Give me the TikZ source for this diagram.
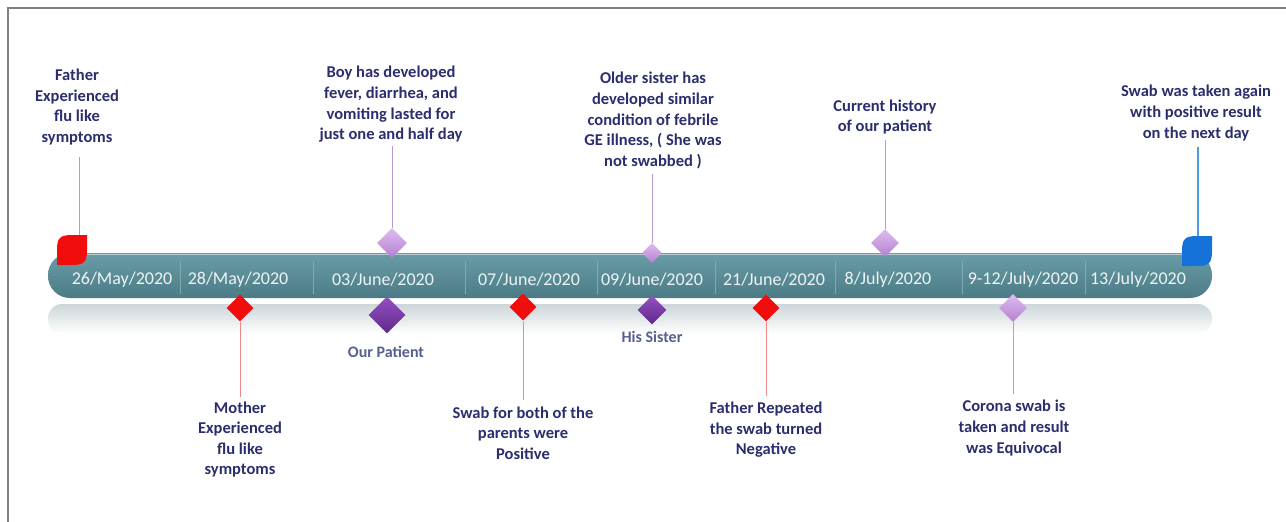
\documentclass[tikz,border=0pt]{standalone}
\usepackage{fontspec}
\setmainfont{Carlito}
\usetikzlibrary{shapes.geometric}
\definecolor{navy}{HTML}{2B2E6E}
\definecolor{tagcol}{HTML}{55608F}
\definecolor{barA}{HTML}{6A9DA7}
\definecolor{barB}{HTML}{4B7B86}
\definecolor{sepcol}{HTML}{7FAAB3}
\definecolor{datecol}{HTML}{EEF4F5}
\definecolor{reflA}{HTML}{CDD6D9}
\definecolor{framecol}{HTML}{808080}
\definecolor{redm}{HTML}{F20D0D}
\definecolor{redln}{HTML}{F08A8A}
\definecolor{lpurA}{HTML}{DDBDEE}
\definecolor{lpurB}{HTML}{B57FD2}
\definecolor{lpurln}{HTML}{B99AD2}
\definecolor{dpurA}{HTML}{9550C0}
\definecolor{dpurB}{HTML}{5E2A8C}
\definecolor{bluem}{HTML}{1472D8}
\definecolor{blueln}{HTML}{4D9BE2}
\newcommand\leafshape[3]{%
  \fill[#3] ({#1+15},{#2-15}) -- ({#1+15},{#2}) .. controls ({#1+15},{#2+12}) and ({#1+12},{#2+15}) .. ({#1},{#2+15}) -- ({#1-15},{#2+15}) -- ({#1-15},{#2}) .. controls ({#1-15},{#2-12}) and ({#1-12},{#2-15}) .. ({#1},{#2-15}) -- cycle;}
\begin{document}
\begin{tikzpicture}[x=1pt,y=-1pt,
  lab/.style={font=\bfseries\fontsize{16.5}{20.6}\selectfont,text=navy,align=center,inner sep=0pt},
  datelab/.style={font=\fontsize{18}{20}\selectfont,text=datecol,inner sep=0pt},
  tag/.style={font=\bfseries\fontsize{16}{19}\selectfont,text=tagcol,inner sep=0pt},
  dia/.style={diamond,inner sep=0pt,minimum width=#1,minimum height=#1},
  reddia/.style={dia=27,fill=redm},
  lpdia/.style={dia=#1,top color=lpurA,bottom color=lpurB},
  dpdia/.style={dia=#1,top color=dpurA,bottom color=dpurB},
  redline/.style={redln,line width=1pt},
  lpline/.style={lpurln,line width=1pt},
  blueline/.style={blueln,line width=1.3pt}
]
\useasboundingbox (0,0) rectangle (1286,522);
\fill[white] (0,0) rectangle (1286,522);
\draw[framecol,line width=1.5pt] (8,522) -- (8,8) -- (1286,8);

% reflection and bar
\shade[top color=reflA,bottom color=white,rounded corners=14] (48,304) rectangle (1212,334);
\shade[top color=barA,bottom color=barB,rounded corners=22] (48,253) rectangle (1212,298);
\draw[white!50!barA,line width=0.8pt] (66,254) -- (1194,254);
\foreach \sx in {180,313,465,597,715,835,962,1085}
  \draw[sepcol,line width=0.6pt] (\sx,261) -- (\sx,294);

% dates
\node[datelab] (dt1) at (122,280) {26/May/2020};
\node[datelab] (dt2) at (238,280) {28/May/2020};
\node[datelab] (dt3) at (383,280) {03/June/2020};
\node[datelab] (dt4) at (529,280) {07/June/2020};
\node[datelab] (dt5) at (652,280) {09/June/2020};
\node[datelab] (dt6) at (774,280) {21/June/2020};
\node[datelab] (dt7) at (888,280) {8/July/2020};
\node[datelab] (dt8) at (1023,280) {9-12/July/2020};
\node[datelab] (dt9) at (1138,280) {13/July/2020};

% leaves
\leafshape{72}{250}{redm}
\coordinate (leafR) at (79,235);
\leafshape{1197}{251}{bluem}
\coordinate (leafB) at (1198,236);

% diamonds
\node[reddia] (m1) at (240,308) {};
\node[lpdia=30] (m2) at (392,243) {};
\node[dpdia=37] (m3) at (387,315) {};
\node[reddia] (m4) at (523,307) {};
\node[lpdia=20] (m5) at (652,253) {};
\node[dpdia=29] (m6) at (652,310) {};
\node[reddia] (m7) at (766,308) {};
\node[lpdia=28] (m8) at (885,243) {};
\node[lpdia=28] (m9) at (1013,308) {};

% top labels
\node[lab] (t1) at (77,107) {Father\\Experienced\\flu like\\symptoms};
\node[lab] (t2) at (391,104.5) {Boy has developed\\fever, diarrhea, and\\vomiting lasted for\\just one and half day};
\node[lab] (t3) at (653,120.5) {Older sister has\\developed similar\\condition of febrile\\GE illness, ( She was\\not swabbed )};
\node[lab] (t4) at (885,117) {Current history\\of our patient};
\node[lab] (t5) at (1196,113) {Swab was taken again\\with positive result\\on the next day};

% bottom labels
\node[lab] (b1) at (240,439.5) {Mother\\Experienced\\flu like\\symptoms};
\node[lab] (b2) at (523,433) {Swab for both of the\\parents were\\Positive};
\node[lab] (b3) at (766,430) {Father Repeated\\the swab turned\\Negative};
\node[lab] (b4) at (1014,428) {Corona swab is\\taken and result\\was Equivocal};

\node[tag] (p1) at (386,352) {Our Patient};
\node[tag] (p2) at (652,337) {His Sister};

% connectors
\draw[redline,shorten <=12pt] (t1.south -| leafR) -- (leafR);
\draw[lpline,shorten <=3pt] (t2.south -| m2) -- (m2.north);
\draw[lpline,shorten <=5pt] (t3.south -| m5) -- (m5.north);
\draw[lpline,shorten <=5pt] (t4.south -| m8) -- (m8.north);
\draw[blueline,shorten <=6pt] (t5.south -| leafB) -- (leafB);
\draw[redline,shorten >=4pt] (m1.south) -- (b1.north -| m1);
\draw[redline,shorten >=6pt] (m4.south) -- (b2.north -| m4);
\draw[redline,shorten >=6pt] (m7.south) -- (b3.north -| m7);
\draw[lpline,shorten >=6pt] (m9.south) -- (b4.north -| m9);
\end{tikzpicture}
\end{document}
